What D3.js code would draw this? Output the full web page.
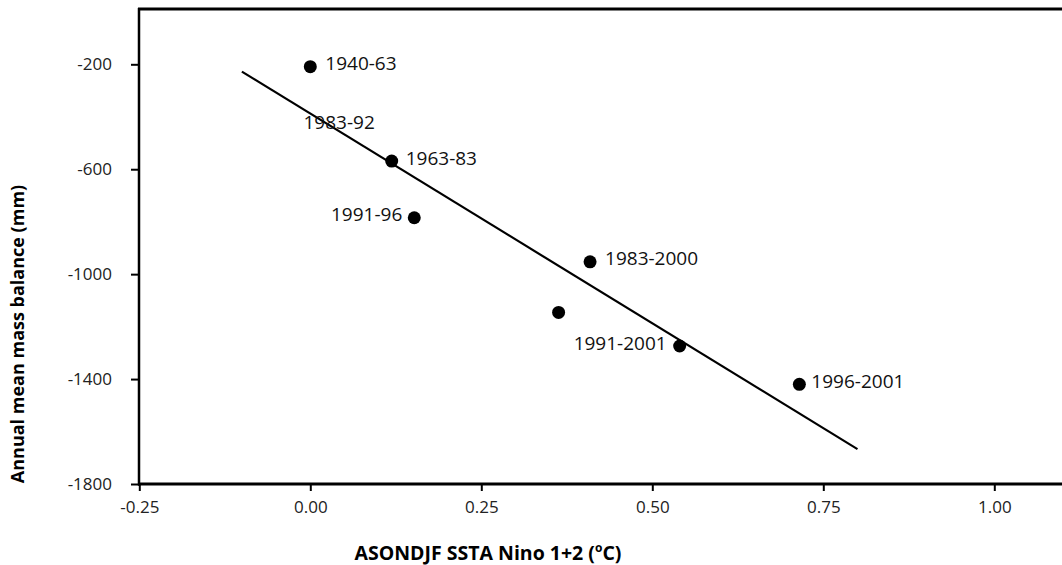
<!DOCTYPE html>
<html><head><meta charset="utf-8">
<script src="https://cdn.jsdelivr.net/npm/d3@7"></script>
<style>body{margin:0;background:#fff}svg{display:block}text{font-family:"Open Sans",sans-serif}</style>
</head><body><svg id="c" width="1062" height="565"></svg>
<script>
const periods = ["1940-63","1963-83","1991-96","1983-2000","1983-92","1991-2001","1996-2001"];
const ssta = [0.00, 0.119, 0.152, 0.409, 0.363, 0.54, 0.715];
const massBalance = [-209, -569, -785, -953, -1146, -1274, -1420];
// label placement: 1 = right of point, -1 = left, 0 = placed at its own spot
const labelSide = [1, 1, -1, 1, 0, -1, 1];
const labelGap = [15, 14, 12, 15, 0, 13, 12];
const freeLabelX = [null,null,null,null,-0.01,null,null];
const freeLabelY = [null,null,null,null,-420,null,null];
const trendX = [-0.10, 0.80];
const trendY = [-228, -1667];
const xTicks = [-0.25, 0, 0.25, 0.5, 0.75, 1.0];
const yTicks = [-200, -600, -1000, -1400, -1800];

const svg = d3.select("#c");
const x = d3.scaleLinear().domain([-0.25, 1.0]).range([139.3, 994.3]);
const y = d3.scaleLinear().domain([-1800, -200]).range([484, 64.3]);

svg.append("line").attr("x1", 138).attr("x2", 1062).attr("y1", 9).attr("y2", 9)
  .attr("stroke", "#000").attr("stroke-width", 3);

const xAxis = svg.append("g").attr("transform", "translate(0,484)")
  .call(d3.axisBottom(x).tickValues(xTicks).tickFormat(d3.format(".2f")).tickSize(7).tickSizeOuter(0));
xAxis.select(".domain").attr("d", "M138,0H1062").attr("stroke-width", 3);
xAxis.selectAll(".tick line").attr("stroke-width", 2);
xAxis.selectAll(".tick text").attr("font-size", 17).attr("fill", "#222").attr("y", 17).attr("dy", "0.71em")
  .text(d => d3.format(".2f")(d).replace("\u2212", "-"));

const yAxis = svg.append("g").attr("transform", "translate(139,0)")
  .call(d3.axisLeft(y).tickValues(yTicks).tickFormat(d => String(d)).tickSize(8).tickSizeOuter(0));
yAxis.select(".domain").attr("d", "M0,8V485.5").attr("stroke-width", 2.5);
yAxis.selectAll(".tick line").attr("stroke-width", 2);
yAxis.selectAll(".tick text").attr("font-size", 17).attr("fill", "#222").attr("x", -27);

svg.append("line")
  .attr("x1", x(trendX[0])).attr("y1", y(trendY[0]))
  .attr("x2", x(trendX[1])).attr("y2", y(trendY[1]))
  .attr("stroke", "#000").attr("stroke-width", 2.2);

const data = periods.map((p, i) => ({p, x: ssta[i], y: massBalance[i], side: labelSide[i], gap: labelGap[i], fx: freeLabelX[i], fy: freeLabelY[i]}));
svg.selectAll("circle.pt").data(data).join("circle").attr("class","pt")
  .attr("cx", d => x(d.x)).attr("cy", d => y(d.y)).attr("r", 6.5).attr("fill", "#000");

svg.selectAll("text.lab").data(data).join("text").attr("class","lab")
  .attr("x", d => d.side === 0 ? x(d.fx) : x(d.x) + d.side * d.gap)
  .attr("y", d => d.side === 0 ? y(d.fy) : y(d.y) - 3)
  .attr("dy", "0.35em")
  .attr("text-anchor", d => d.side === -1 ? "end" : "start")
  .attr("font-size", 19).attr("fill", "#111")
  .text(d => d.p);

svg.append("text").attr("transform", "translate(24,334) rotate(-90)")
  .attr("text-anchor", "middle").attr("font-size", 18).attr("font-weight", "bold")
  .text("Annual mean mass balance (mm)");
const xt = svg.append("text").attr("x", 488).attr("y", 560).attr("text-anchor", "middle")
  .attr("font-size", 19.5).attr("font-weight", "bold");
xt.append("tspan").text("ASONDJF SSTA Nino 1+2 (");
xt.append("tspan").attr("dy", -8).attr("font-size", 12).text("o");
xt.append("tspan").attr("dy", 8).text("C)");
</script></body></html>
